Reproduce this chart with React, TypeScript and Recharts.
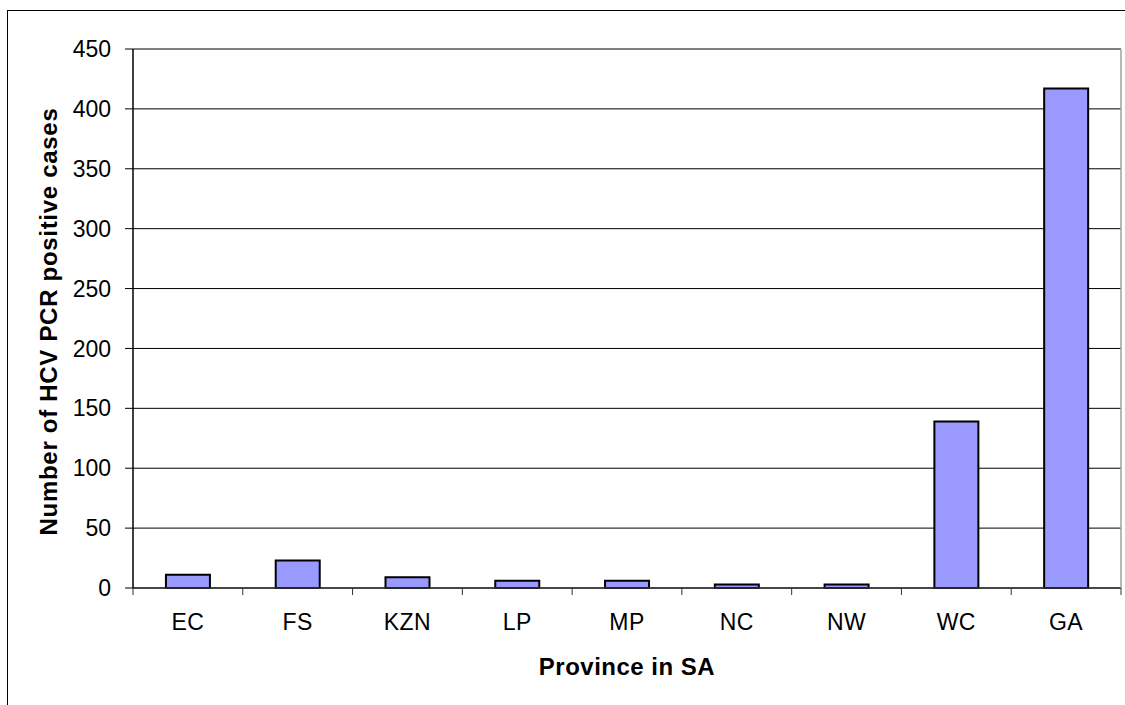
import React from 'react';
import { BarChart, Bar, XAxis, YAxis, CartesianGrid } from 'recharts';

const provinces = ['EC', 'FS', 'KZN', 'LP', 'MP', 'NC', 'NW', 'WC', 'GA'];
const positiveCases = [11, 23, 9, 6, 6, 3, 3, 139, 417];
const yTicks = [0, 50, 100, 150, 200, 250, 300, 350, 400, 450];

const data = provinces.map((name, i) => ({ name, cases: positiveCases[i] }));

const W = 1125;
const H = 705;
const LEFT = 133;
const RIGHT = 4;
const TOP = 49;
const XAXIS_H = 117;
const FONT = '"Liberation Sans", Arial, sans-serif';
const STEP = (W - LEFT - RIGHT) / provinces.length;

const XTick = (props: any) => {
  const { x, y, payload, index } = props;
  const isLast = index === provinces.length - 1;
  return (
    <g>
      <line x1={x - STEP / 2} x2={x - STEP / 2} y1={y} y2={y + 7} stroke="#333" strokeWidth={1} />
      {isLast && <line x1={x + STEP / 2} x2={x + STEP / 2} y1={y} y2={y + 7} stroke="#333" strokeWidth={1} />}
      <text x={x} y={y + 42} textAnchor="middle" fontSize={23} fontFamily={FONT} fill="#000" letterSpacing={0.5}>
        {payload.value}
      </text>
    </g>
  );
};

const YLabel = (props: any) => {
  const vb = props.viewBox || { x: 0, y: TOP, width: LEFT, height: 539 };
  const cy = vb.y + vb.height / 2 + 3;
  return (
    <text
      x={57}
      y={cy}
      transform={`rotate(-90, 57, ${cy})`}
      textAnchor="middle"
      fontSize={24}
      fontWeight="bold"
      fontFamily={FONT}
      fill="#000"
      letterSpacing={0.7}
    >
      Number of HCV PCR positive cases
    </text>
  );
};

const XLabel = (props: any) => {
  const vb = props.viewBox || { x: LEFT, y: H - XAXIS_H, width: W - LEFT - RIGHT, height: XAXIS_H };
  const cx = vb.x + vb.width / 2;
  return (
    <text
      x={cx}
      y={vb.y + 87}
      textAnchor="middle"
      fontSize={24}
      fontWeight="bold"
      fontFamily={FONT}
      fill="#000"
      letterSpacing={0.5}
    >
      Province in SA
    </text>
  );
};

export default function App() {
  return (
    <div
      style={{
        position: 'absolute',
        left: 0,
        top: 0,
        width: W,
        height: H,
        overflow: 'hidden',
        background: '#fff',
      }}
    >
      <div
        style={{
          position: 'absolute',
          left: 7,
          top: 10,
          width: 1300,
          height: 900,
          border: '1px solid #000',
          boxSizing: 'border-box',
        }}
      />
      <div style={{ position: 'absolute', left: 0, top: 0 }}>
        <BarChart
          width={W}
          height={H}
          data={data}
          margin={{ top: TOP, right: 0, bottom: 0, left: 0 }}
          barCategoryGap="30%"
        >
          <CartesianGrid vertical={false} stroke="#000" strokeWidth={1} />
          <XAxis
            dataKey="name"
            height={XAXIS_H}
            tickLine={false}
            tickSize={0}
            tickMargin={0}
            axisLine={{ stroke: '#333', strokeWidth: 1.5 }}
            tick={<XTick />}
            interval={0}
            label={<XLabel />}
          />
          <XAxis
            xAxisId="top"
            dataKey="name"
            orientation="top"
            height={0}
            tick={false}
            tickLine={false}
            axisLine={{ stroke: '#a0a0a0', strokeWidth: 1.5 }}
          />
          <YAxis
            width={LEFT}
            domain={[0, 450]}
            ticks={yTicks}
            interval={0}
            tickSize={8}
            tickMargin={14}
            tickLine={{ stroke: '#000' }}
            axisLine={{ stroke: '#000', strokeWidth: 1.5 }}
            tick={{ fontSize: 23, fontFamily: FONT, fill: '#000' }}
            label={<YLabel />}
          />
          <YAxis
            yAxisId="right"
            orientation="right"
            width={RIGHT}
            domain={[0, 450]}
            tick={false}
            tickLine={false}
            axisLine={{ stroke: '#a0a0a0', strokeWidth: 1.5 }}
          />
          <Bar dataKey="cases" fill="#9999FF" stroke="#000" strokeWidth={2} isAnimationActive={false} />
        </BarChart>
      </div>
    </div>
  );
}
